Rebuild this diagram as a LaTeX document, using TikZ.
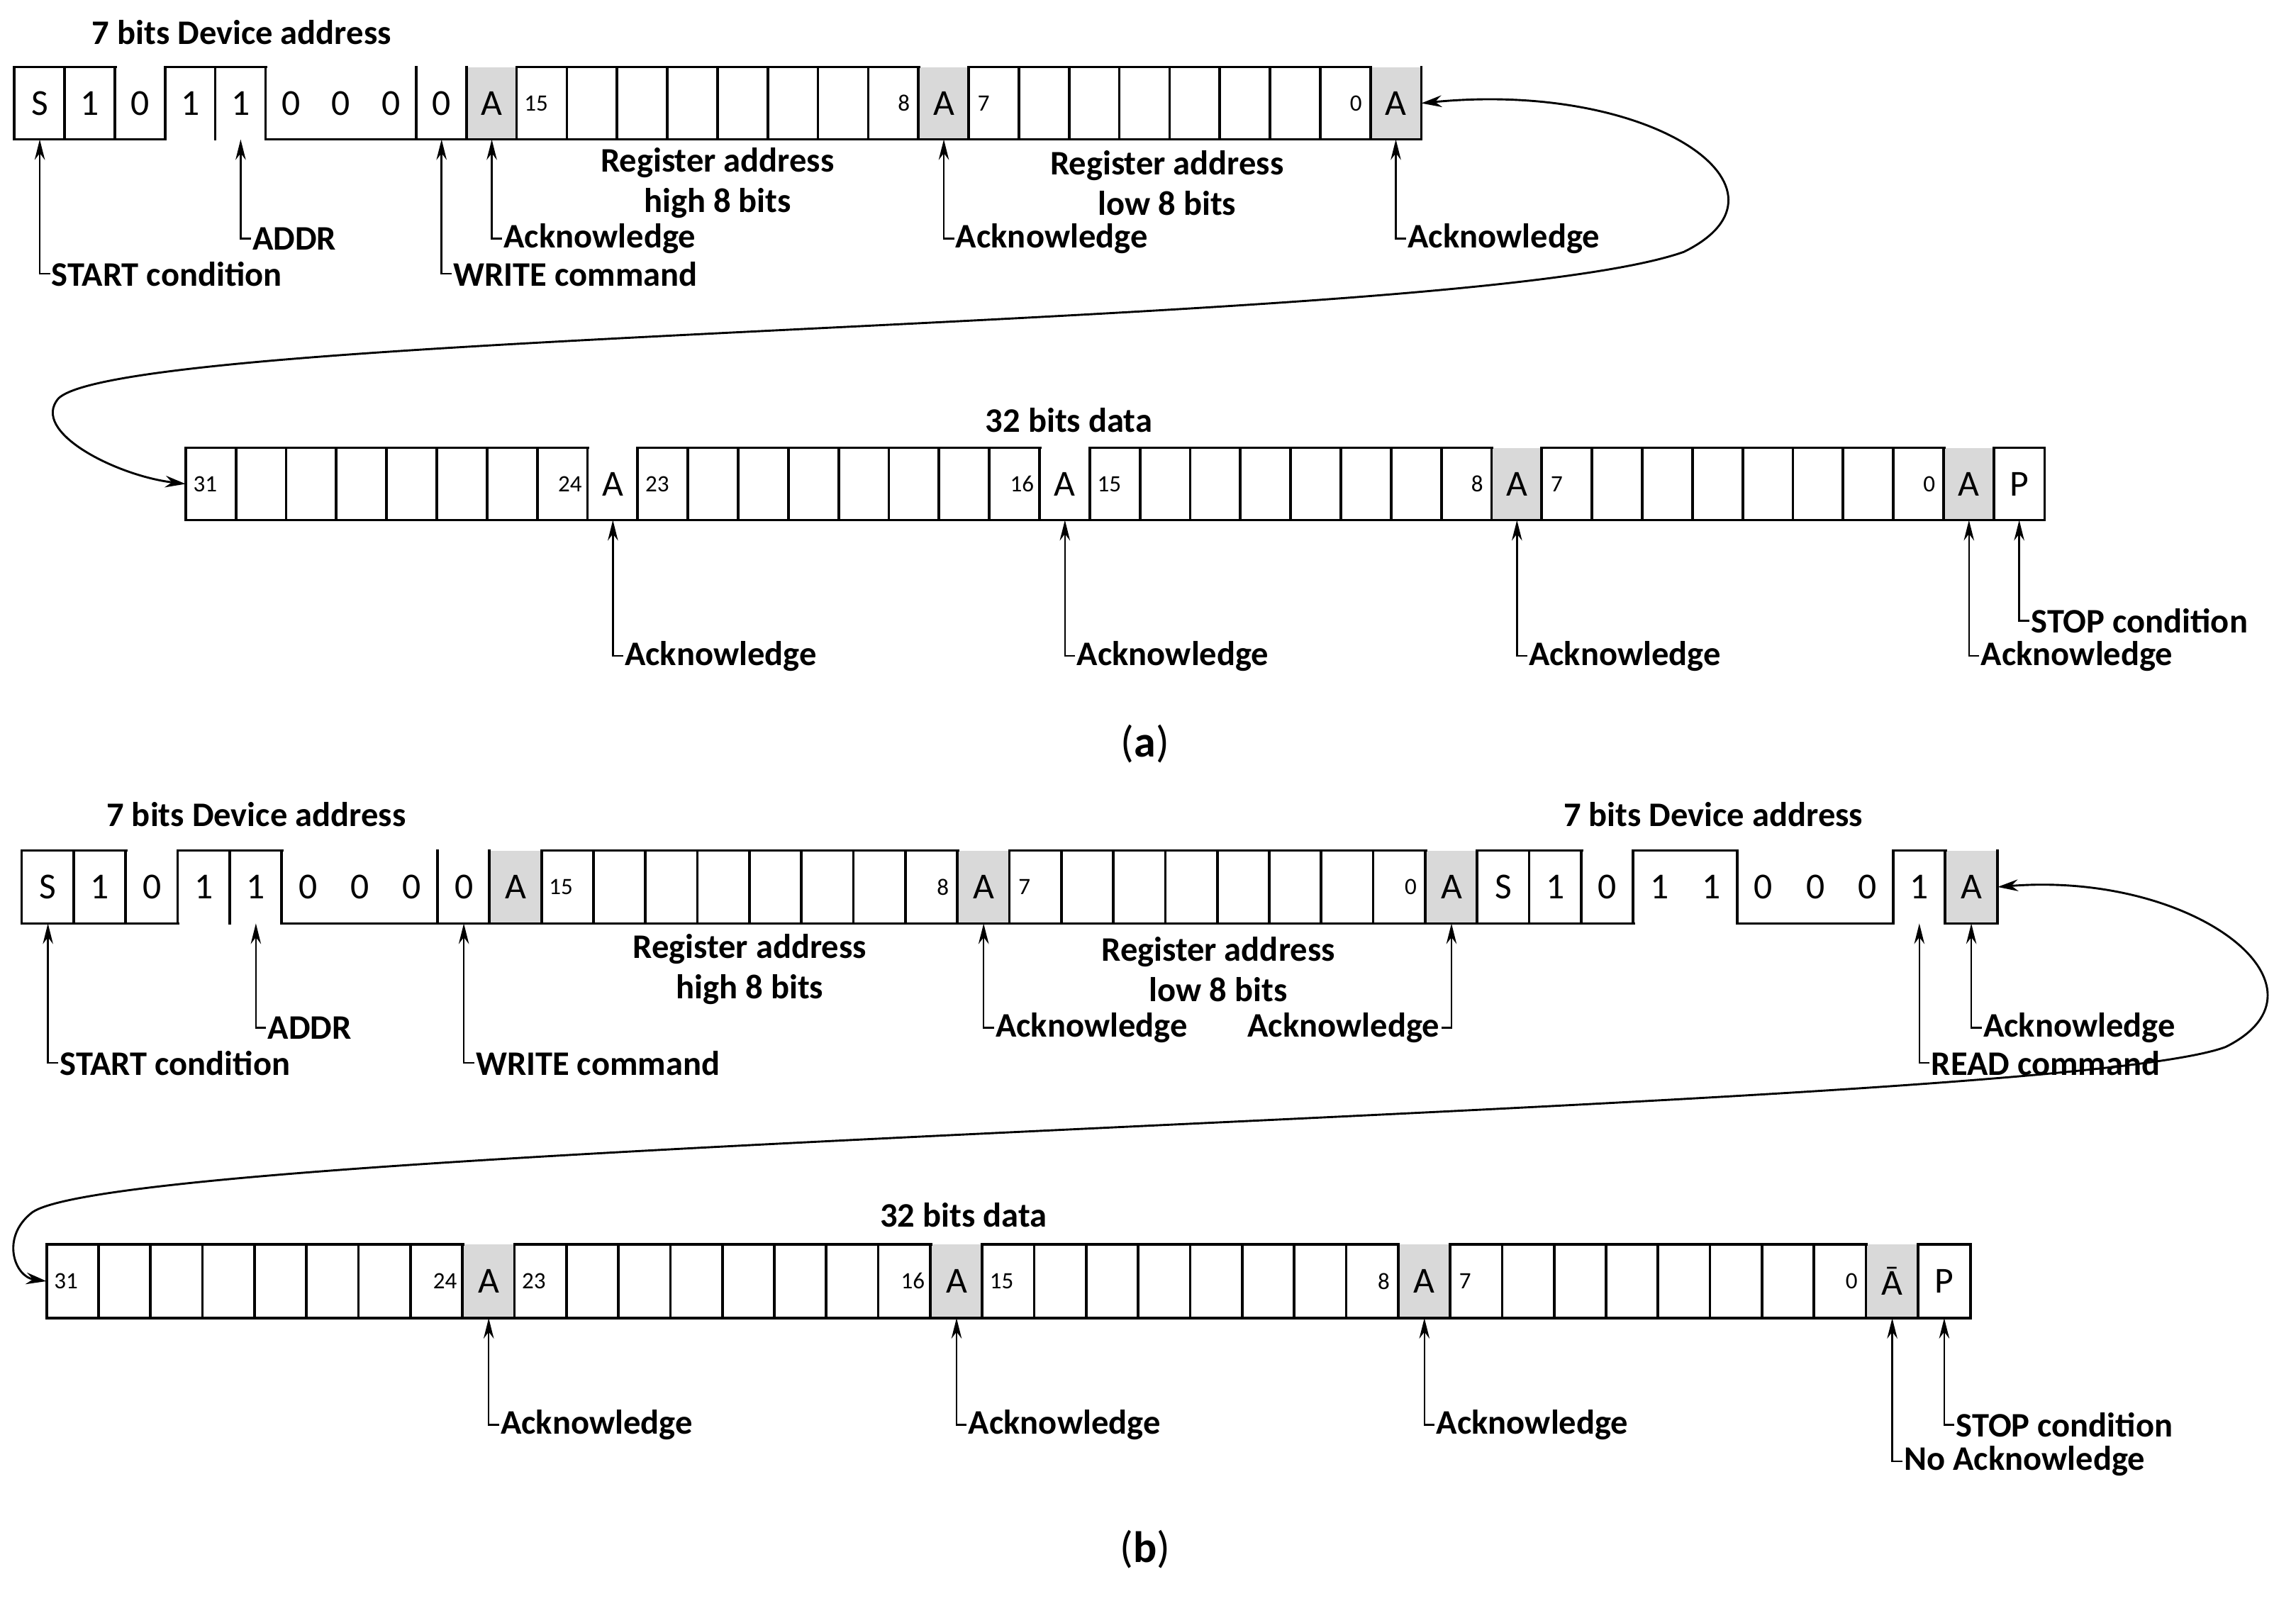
\documentclass[tikz,border=0pt]{standalone}
\usepackage{fontspec}
\setmainfont{Carlito}
\usetikzlibrary{arrows.meta}
\definecolor{ackgray}{HTML}{D9D9D9}
\newcommand\cellrow[6]{%
 \foreach \ty/\vl/\lab [count=\i] in {#6}{%
   \pgfmathsetmacro\cx{#2+(\i-0.5)*#4}%
   \pgfmathsetmacro\cy{#3+#5/2}%
   \if\ty G\relax
     \node[cell,fill=ackgray,minimum width=#4,minimum height=#5] (#1\i) at (\cx,\cy) {\lab};
   \else
     \node[cell,minimum width=#4,minimum height=#5] (#1\i) at (\cx,\cy) {\lab};
   \fi
 }%
 \foreach \ty/\vl/\lab [count=\i] in {#6}{%
   \if\ty T\relax\else \draw[box] (#1\i.south west) -- (#1\i.south east);\fi
   \if\ty F\relax \draw[box] (#1\i.north west) -- (#1\i.north east);\fi
   \if\ty T\relax \draw[box] (#1\i.north west) -- (#1\i.north east);\fi
   \ifnum\vl=1 \draw[box] (#1\i.north west) -- (#1\i.south west);\fi
   \xdef\lastcell{#1\i}%
 }%
 \draw[box] (\lastcell.north east) -- (\lastcell.south east);
}
\begin{document}
\begin{tikzpicture}[x=1pt,y=-1pt,
  cell/.style={inner sep=0pt,draw=none,font=\fontsize{25}{28}\selectfont},
  box/.style={line width=1.8pt,line cap=rect},
  num/.style={inner sep=0pt,font=\fontsize{16}{18}\selectfont},
  lab/.style={inner sep=1pt,font=\fontsize{23.5}{26}\selectfont\bfseries},
  ttl/.style={inner sep=0pt,font=\fontsize{23.5}{28}\selectfont\bfseries},
  ann/.style={line width=1.2pt,-{Stealth[length=14pt,width=7pt]}},
  curv/.style={line width=1.4pt,{Stealth[length=14pt,width=8pt]}-{Stealth[length=14pt,width=8pt]}}]
\useasboundingbox (0,0) rectangle (1568,1093);

% ---------- (a) row 1
\cellrow{aa}{10}{46}{34.3}{49}{F/1/S,F/1/1,B/1/0,T/1/1,T/1/1,B/1/0,B/0/0,B/0/0,B/1/0,G/1/A,
 F/1/{},F/1/{},F/1/{},F/1/{},F/1/{},F/1/{},F/1/{},F/1/{},G/1/A,
 F/1/{},F/1/{},F/1/{},F/1/{},F/1/{},F/1/{},F/1/{},F/1/{},G/1/A}
\node[num,anchor=west] (na1) at ([xshift=5pt]aa11.west) {15};
\node[num,anchor=east] (na2) at ([xshift=-6pt]aa18.east) {8};
\node[num,anchor=west] (na3) at ([xshift=6pt]aa20.west) {7};
\node[num,anchor=east] (na4) at ([xshift=-6pt]aa27.east) {0};
\node[ttl] (t1) at (165,22) {7 bits Device address};
\node[ttl,align=center] (r1) at (490,125) {Register address\\high 8 bits};
\node[ttl,align=center] (r2) at (797,125) {Register address\\low 8 bits};
\node[lab,anchor=west] (l1) at ([xshift=7pt]aa1.south |- 0,187) {START condition};
\node[lab,anchor=west] (l2) at ([xshift=7pt]aa5.south |- 0,163) {ADDR};
\node[lab,anchor=west] (l3) at ([xshift=7pt]aa9.south |- 0,187) {WRITE command};
\node[lab,anchor=west] (l4) at ([xshift=7pt]aa10.south |- 0,163) {Acknowledge};
\node[lab,anchor=west] (l5) at ([xshift=7pt]aa19.south |- 0,163) {Acknowledge};
\node[lab,anchor=west] (l6) at ([xshift=7pt]aa28.south |- 0,163) {Acknowledge};
\foreach \l/\c in {l1/aa1,l2/aa5,l3/aa9,l4/aa10,l5/aa19,l6/aa28}
  \draw[ann] (\l.west) -| (\c.south);

% ---------- (a) row 2
\cellrow{ab}{127}{306}{34.3}{49}{F/1/{},F/1/{},F/1/{},F/1/{},F/1/{},F/1/{},F/1/{},F/1/{},B/1/A,
 F/1/{},F/1/{},F/1/{},F/1/{},F/1/{},F/1/{},F/1/{},F/1/{},B/1/A,
 F/1/{},F/1/{},F/1/{},F/1/{},F/1/{},F/1/{},F/1/{},F/1/{},G/1/A,
 F/1/{},F/1/{},F/1/{},F/1/{},F/1/{},F/1/{},F/1/{},F/1/{},G/1/A,F/1/P}
\node[num,anchor=west] (nb1) at ([xshift=5pt]ab1.west) {31};
\node[num,anchor=east] (nb2) at ([xshift=-4pt]ab8.east) {24};
\node[num,anchor=west] (nb3) at ([xshift=5pt]ab10.west) {23};
\node[num,anchor=east] (nb4) at ([xshift=-4pt]ab17.east) {16};
\node[num,anchor=west] (nb5) at ([xshift=5pt]ab19.west) {15};
\node[num,anchor=east] (nb6) at ([xshift=-6pt]ab26.east) {8};
\node[num,anchor=west] (nb7) at ([xshift=6pt]ab28.west) {7};
\node[num,anchor=east] (nb8) at ([xshift=-6pt]ab35.east) {0};
\node[ttl] (t2) at (730,287) {32 bits data};
\node[lab,anchor=west] (m1) at ([xshift=7pt]ab9.south |- 0,448) {Acknowledge};
\node[lab,anchor=west] (m2) at ([xshift=7pt]ab18.south |- 0,448) {Acknowledge};
\node[lab,anchor=west] (m3) at ([xshift=7pt]ab27.south |- 0,448) {Acknowledge};
\node[lab,anchor=west] (m4) at ([xshift=7pt]ab36.south |- 0,448) {Acknowledge};
\node[lab,anchor=west] (m5) at ([xshift=7pt]ab37.south |- 0,424) {STOP condition};
\foreach \l/\c in {m1/ab9,m2/ab18,m3/ab27,m4/ab36,m5/ab37}
  \draw[ann] (\l.west) -| (\c.south);
\draw[curv] (aa28.east) .. controls (1130,55) and (1235,130) .. (1150,172)
  .. controls (1000,225) and (90,225) .. (40,272)
  .. controls (20,295) and (80,325) .. (ab1.west);
\node[inner sep=0pt,font=\fontsize{30}{34}\selectfont] (ca) at (782,508) {(\textbf{a})};

% ---------- (b) row 1
\cellrow{ba}{15}{581}{35.5}{49.5}{F/1/S,F/1/1,B/1/0,T/1/1,T/1/1,B/1/0,B/0/0,B/0/0,B/1/0,G/1/A,
 F/1/{},F/1/{},F/1/{},F/1/{},F/1/{},F/1/{},F/1/{},F/1/{},G/1/A,
 F/1/{},F/1/{},F/1/{},F/1/{},F/1/{},F/1/{},F/1/{},F/1/{},G/1/A,
 F/1/S,F/1/1,B/1/0,T/1/1,T/0/1,B/1/0,B/0/0,B/0/0,T/1/1,G/1/A}
\node[num,anchor=west] (nc1) at ([xshift=5pt]ba11.west) {15};
\node[num,anchor=east] (nc2) at ([xshift=-6pt]ba18.east) {8};
\node[num,anchor=west] (nc3) at ([xshift=6pt]ba20.west) {7};
\node[num,anchor=east] (nc4) at ([xshift=-6pt]ba27.east) {0};
\node[ttl] (t3) at (175,556) {7 bits Device address};
\node[ttl] (t4) at (1170,556) {7 bits Device address};
\node[ttl,align=center] (r3) at (512,662) {Register address\\high 8 bits};
\node[ttl,align=center] (r4) at (832,662) {Register address\\low 8 bits};
\node[lab,anchor=west] (k1) at ([xshift=7pt]ba1.south |- 0,726) {START condition};
\node[lab,anchor=west] (k2) at ([xshift=7pt]ba5.south |- 0,702) {ADDR};
\node[lab,anchor=west] (k3) at ([xshift=7pt]ba9.south |- 0,726) {WRITE command};
\node[lab,anchor=west] (k4) at ([xshift=7pt]ba19.south |- 0,702) {Acknowledge};
\node[lab,anchor=west] (k6) at ([xshift=7pt]ba37.south |- 0,726) {READ command};
\node[lab,anchor=west] (k7) at ([xshift=7pt]ba38.south |- 0,702) {Acknowledge};
\foreach \l/\c in {k1/ba1,k2/ba5,k3/ba9,k4/ba19,k6/ba37,k7/ba38}
  \draw[ann] (\l.west) -| (\c.south);
\node[lab,anchor=east] (k5) at ([xshift=-7pt]ba28.south |- 0,702) {Acknowledge};
\draw[ann] (k5.east) -| (ba28.south);

% ---------- (b) row 2
\cellrow{bb}{32}{850}{35.5}{50}{F/1/{},F/1/{},F/1/{},F/1/{},F/1/{},F/1/{},F/1/{},F/1/{},G/1/A,
 F/1/{},F/1/{},F/1/{},F/1/{},F/1/{},F/1/{},F/1/{},F/1/{},G/1/A,
 F/1/{},F/1/{},F/1/{},F/1/{},F/1/{},F/1/{},F/1/{},F/1/{},G/1/A,
 F/1/{},F/1/{},F/1/{},F/1/{},F/1/{},F/1/{},F/1/{},F/1/{},G/1/Ā,F/1/P}
\node[num,anchor=west] (nd1) at ([xshift=5pt]bb1.west) {31};
\node[num,anchor=east] (nd2) at ([xshift=-4pt]bb8.east) {24};
\node[num,anchor=west] (nd3) at ([xshift=5pt]bb10.west) {23};
\node[num,anchor=east] (nd4) at ([xshift=-4pt]bb17.east) {16};
\node[num,anchor=west] (nd5) at ([xshift=5pt]bb19.west) {15};
\node[num,anchor=east] (nd6) at ([xshift=-6pt]bb26.east) {8};
\node[num,anchor=west] (nd7) at ([xshift=6pt]bb28.west) {7};
\node[num,anchor=east] (nd8) at ([xshift=-6pt]bb35.east) {0};
\node[ttl] (t5) at (658,830) {32 bits data};
\node[lab,anchor=west] (j1) at ([xshift=7pt]bb9.south |- 0,973) {Acknowledge};
\node[lab,anchor=west] (j2) at ([xshift=7pt]bb18.south |- 0,973) {Acknowledge};
\node[lab,anchor=west] (j3) at ([xshift=7pt]bb27.south |- 0,973) {Acknowledge};
\node[lab,anchor=west] (j4) at ([xshift=7pt]bb36.south |- 0,998) {No Acknowledge};
\node[lab,anchor=west] (j5) at ([xshift=7pt]bb37.south |- 0,973) {STOP condition};
\foreach \l/\c in {j1/bb9,j2/bb18,j3/bb27,j4/bb36,j5/bb37}
  \draw[ann] (\l.west) -| (\c.south);
\draw[curv] (ba38.east) .. controls (1500,595) and (1600,675) .. (1520,715)
  .. controls (1400,760) and (90,780) .. (22,828)
  .. controls (0,845) and (10,872) .. (bb1.west);
\node[inner sep=0pt,font=\fontsize{30}{34}\selectfont] (cb) at (782,1058) {(\textbf{b})};
\end{tikzpicture}
\end{document}
